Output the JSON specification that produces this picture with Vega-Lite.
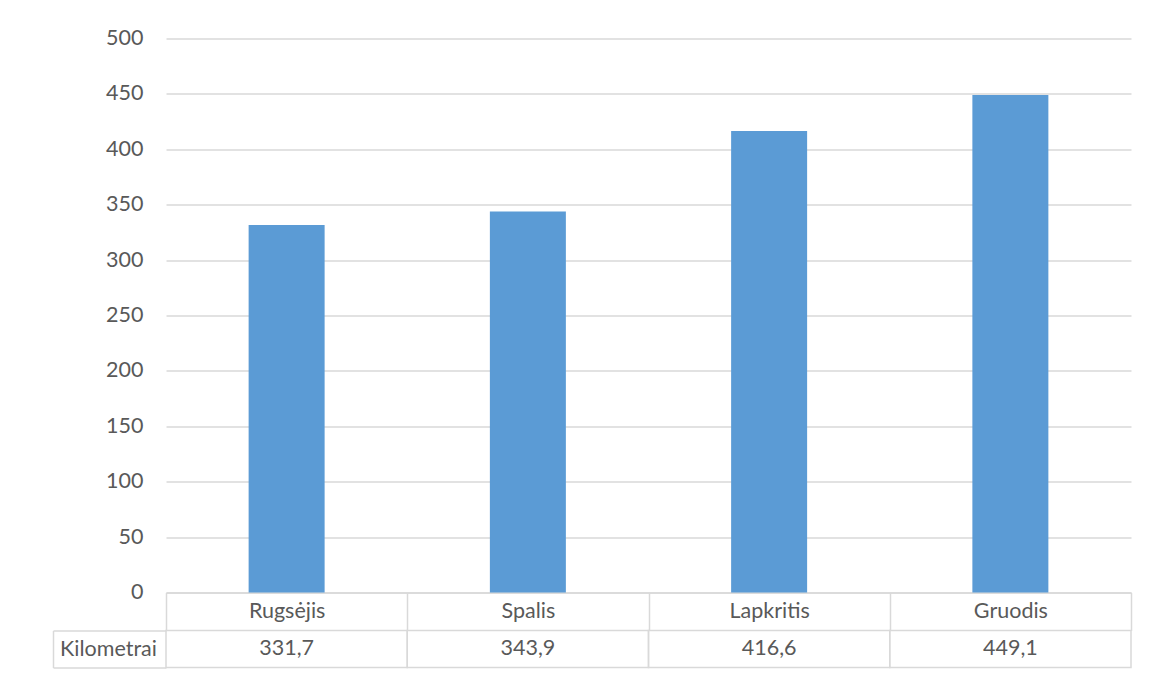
{
  "$schema": "https://vega.github.io/schema/vega-lite/v6.json",
  "padding": {"left": 52, "top": 27.5, "right": 5, "bottom": 5},
  "background": "white",
  "config": {
    "view": {"stroke": null},
    "font": "Lato",
    "locale": {"number": {"decimal": ",", "thousands": " ", "grouping": [3], "currency": ["", " €"]}}
  },
  "data": {
    "values": [
      {"month": "Rugsėjis", "value": 331.7, "series": "Kilometrai"},
      {"month": "Spalis", "value": 343.9, "series": "Kilometrai"},
      {"month": "Lapkritis", "value": 416.6, "series": "Kilometrai"},
      {"month": "Gruodis", "value": 449.1, "series": "Kilometrai"}
    ]
  },
  "spacing": 38,
  "bounds": "flush",
  "vconcat": [
    {
      "width": 965,
      "height": 554,
      "mark": {"type": "bar", "color": "#5b9bd5", "width": {"band": 0.315}},
      "encoding": {
        "x": {
          "field": "month", "type": "nominal", "sort": null,
          "scale": {"paddingInner": 0, "paddingOuter": 0},
          "axis": {
            "title": null, "orient": "bottom", "labelAngle": 0,
            "domain": true, "domainColor": "#d9d9d9", "domainWidth": 1.5,
            "ticks": true, "tickBand": "extent", "tickSize": 38, "tickColor": "#d9d9d9", "tickWidth": 1.5,
            "labelFont": "Lato", "labelFontSize": 21.5, "labelColor": "#595959",
            "labelBaseline": "top", "labelPadding": -30, "grid": false
          }
        },
        "y": {
          "field": "value", "type": "quantitative",
          "scale": {"domain": [0, 500], "nice": false},
          "axis": {
            "title": null, "values": [0, 50, 100, 150, 200, 250, 300, 350, 400, 450, 500],
            "domain": false, "ticks": false, "labelPadding": 23,
            "labelFont": "Lato", "labelFontSize": 21.5, "labelColor": "#595959",
            "grid": true, "gridColor": "#d9d9d9", "gridWidth": 1.5
          }
        }
      }
    },
    {
      "width": 965,
      "height": 37,
      "encoding": {
        "x": {
          "field": "month", "type": "nominal", "sort": null,
          "scale": {"paddingInner": 0, "paddingOuter": 0},
          "axis": null
        },
        "y": {
          "field": "series", "type": "nominal",
          "scale": {"paddingInner": 0, "paddingOuter": 0},
          "axis": {
            "title": null, "orient": "left", "offset": 113,
            "domain": true, "domainColor": "#d9d9d9", "domainWidth": 1.5,
            "ticks": true, "tickBand": "extent", "tickSize": -113, "tickColor": "#d9d9d9", "tickWidth": 1.5,
            "labelAlign": "center", "labelPadding": 58,
            "labelFont": "Lato", "labelFontSize": 21.5, "labelColor": "#595959", "grid": false
          }
        }
      },
      "layer": [
        {"mark": {"type": "rect", "fill": "transparent", "stroke": "#d9d9d9", "strokeWidth": 1.5}},
        {
          "mark": {"type": "text", "font": "Lato", "fontSize": 21.5, "color": "#595959", "baseline": "middle", "align": "center"},
          "encoding": {"text": {"field": "value", "type": "quantitative", "format": ".1f"}}
        }
      ]
    }
  ]
}
